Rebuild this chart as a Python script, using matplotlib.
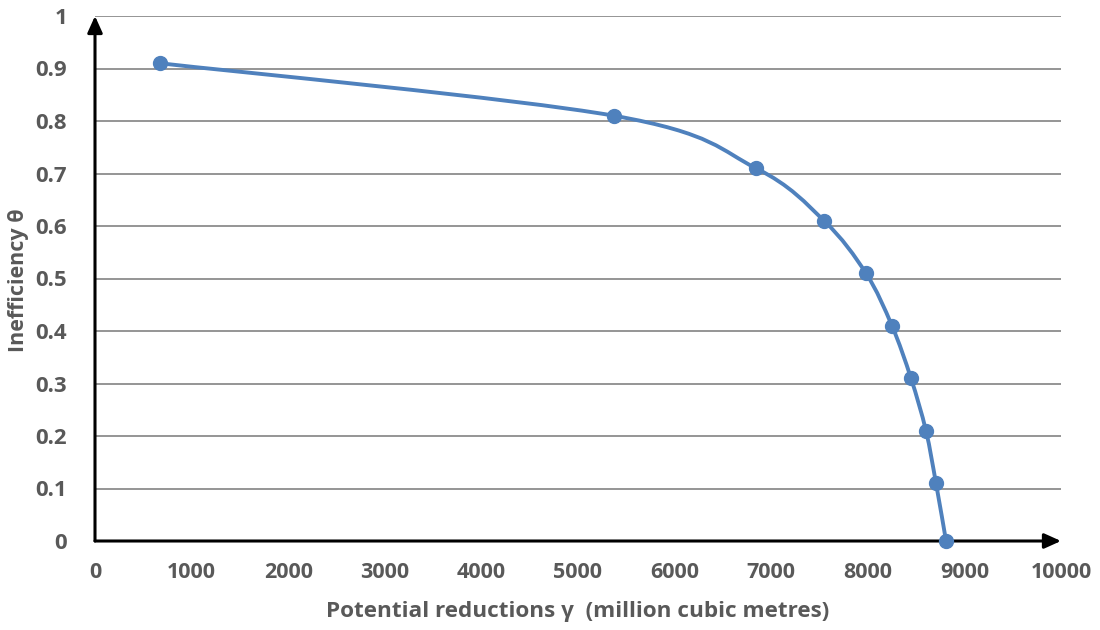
import numpy as np
import matplotlib
matplotlib.use("Agg")
from matplotlib import pyplot as plt
from matplotlib.path import Path
from matplotlib.patches import PathPatch

# ---------------------------------------
# Data
# ---------------------------------------
reductions = [673, 5373, 6843, 7547, 7981, 8250, 8447, 8602, 8706, 8810]
inefficiency = [0.91, 0.81, 0.71, 0.61, 0.51, 0.41, 0.31, 0.21, 0.11, 0.0]
x_ticks = [0, 1000, 2000, 3000, 4000, 5000, 6000, 7000, 8000, 9000, 10000]
y_ticks = [0, 0.1, 0.2, 0.3, 0.4, 0.5, 0.6, 0.7, 0.8, 0.9, 1]
y_tick_labels = ["0", "0.1", "0.2", "0.3", "0.4", "0.5", "0.6", "0.7", "0.8", "0.9", "1"]

blue = "#4F81BD"
grey_text = "#595959"
plt.rcParams['font.family'] = ['Open Sans', 'DejaVu Sans']


# ---------------------------------------
# Excel-style smoothed line (Catmull-Rom as cubic Bezier)
# ---------------------------------------
def smooth_path(ax, xs, ys):
    pts = ax.transData.transform(np.column_stack([xs, ys]))
    ext = np.vstack([pts[0], pts, pts[-1]])
    verts = [pts[0]]
    codes = [Path.MOVETO]
    for i in range(1, len(ext) - 2):
        p0, p1, p2, p3 = ext[i - 1], ext[i], ext[i + 1], ext[i + 2]
        verts += [p1 + (p2 - p0) / 6, p2 - (p3 - p1) / 6, p2]
        codes += [Path.CURVE4] * 3
    verts = ax.transData.inverted().transform(np.array(verts))
    return Path(verts, codes)


fig = plt.figure(figsize=(11, 6.3), dpi=100)
ax = fig.add_axes([95 / 1100, 1 - 541 / 630, 966 / 1100, 525 / 630])
ax.set_xlim(0, 10000)
ax.set_ylim(0, 1)

for y in y_ticks[1:]:
    ax.axhline(y, color="#8C8C8C", lw=1.3, zorder=1)

for s in ax.spines.values():
    s.set_visible(False)

# axes with arrow heads
arrow = dict(arrowstyle="-|>,head_length=1.0,head_width=0.45", color="black", lw=2.2,
             shrinkA=0, shrinkB=0)
ax.annotate("", xy=(1, 0), xytext=(0, 0), xycoords="axes fraction",
            arrowprops=arrow, annotation_clip=False, zorder=4)
ax.annotate("", xy=(0, 1), xytext=(0, 0), xycoords="axes fraction",
            arrowprops=arrow, annotation_clip=False, zorder=4)

ax.set_xticks(x_ticks)
ax.set_xticklabels([str(t) for t in x_ticks])
ax.set_yticks(y_ticks)
ax.set_yticklabels(y_tick_labels)
ax.tick_params(length=0, labelcolor=grey_text)
ax.tick_params(axis="x", pad=15, labelsize=15.5)
ax.tick_params(axis="y", pad=20, labelsize=16)
for lab in ax.get_xticklabels() + ax.get_yticklabels():
    lab.set_fontweight("bold")

fig.canvas.draw()
ax.add_patch(PathPatch(smooth_path(ax, reductions, inefficiency), fill=False,
                       edgecolor=blue, lw=2.8, zorder=5, clip_on=False))
ax.plot(reductions, inefficiency, "o", color=blue, ms=10, zorder=6, clip_on=False)

ax.set_xlabel("Potential reductions γ  (million cubic metres)", fontsize=16.2,
              fontweight="bold", color=grey_text, labelpad=13)
ax.set_ylabel("Inefficiency θ", fontsize=15.5, fontweight="bold", color=grey_text)
ax.yaxis.set_label_coords(-0.068, 0.497)

fig.savefig("out.png", dpi=100)
